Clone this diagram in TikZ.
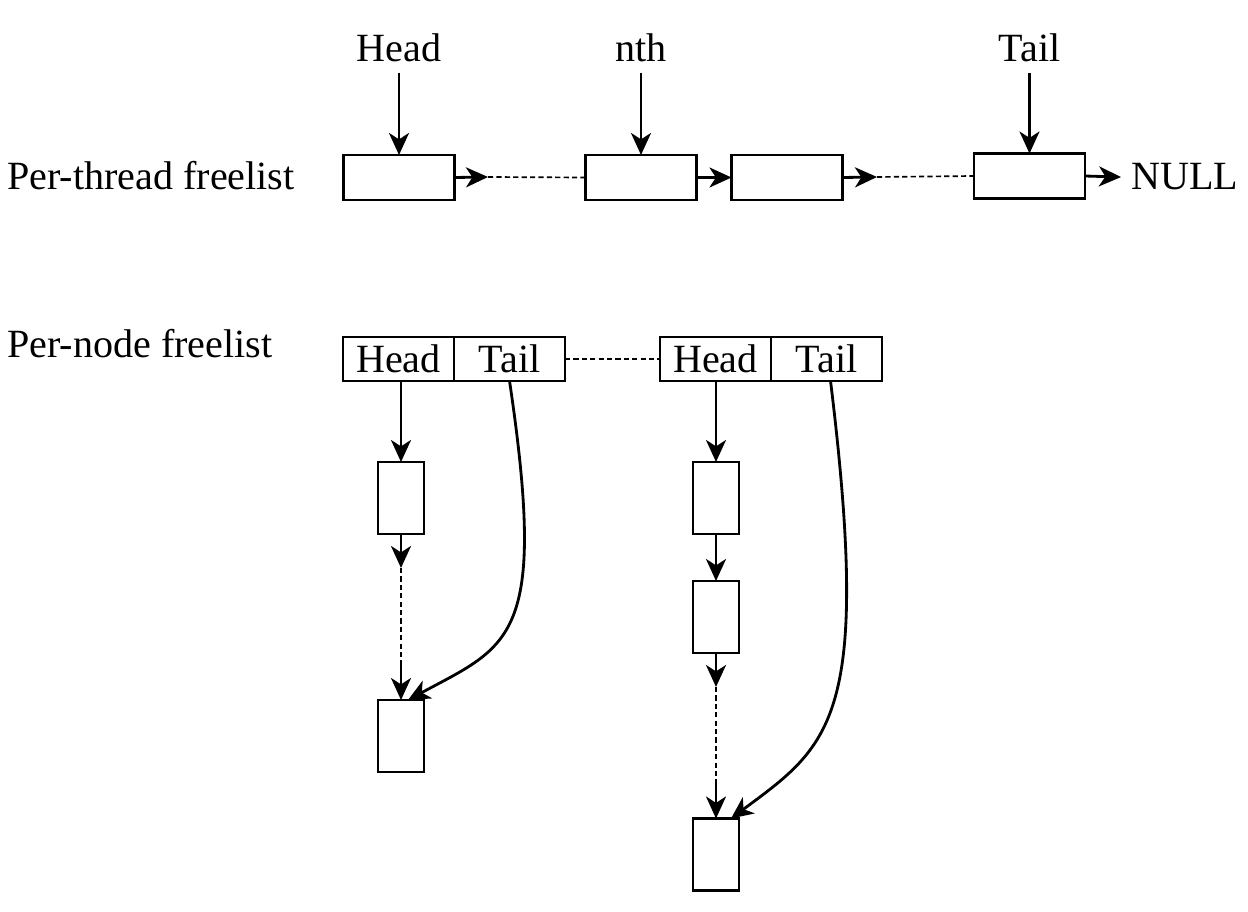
\documentclass[tikz,border=0pt]{standalone}
\usepackage{fontspec}
\setmainfont{Liberation Serif}
\usetikzlibrary{arrows.meta,positioning}

\begin{document}
\begin{tikzpicture}[x=0.025cm, y=-0.025cm,
	every node/.style={font=\fontsize{28.5}{34}\selectfont},
	lbl/.style={inner sep=0.25cm},
	elem/.style={draw, line width=1.7pt, inner sep=0pt, outer sep=0pt, minimum width=2.775cm, minimum height=1.125cm},
	cell/.style={elem, minimum height=1.1cm},
	slot/.style={draw, line width=1.7pt, inner sep=0pt, outer sep=0pt, minimum width=1.15cm, minimum height=1.8cm},
	ptr/.style={-{Stealth[length=0.55cm, width=0.5cm, inset=0.16cm]}, line width=2pt},
	link/.style={line width=1.2pt, dash pattern=on 0.13cm off 0.08cm}]

\useasboundingbox (0,0) rectangle (1248,912);

% per-thread list
\node[lbl, anchor=base west] (thread) at (-3,190) {Per-thread freelist};

\node[elem] (tb1) at (399,177.5) {};
\node[elem] (tb2) at (641,177.5) {};
\node[elem] (tb3) at (787,177.5) {};
\node[elem] (tb4) at (1029.5,176) {};

\node[lbl, anchor=base] (headlbl) at (399,62) {Head};
\node[lbl, anchor=base] (nthlbl) at (641,62) {nth};
\node[lbl, anchor=base] (taillbl) at (1029.5,62) {Tail};
\node[lbl, anchor=base west] (null) at (1121,190) {NULL};

\coordinate (tip1) at (488,177);
\coordinate (tip2) at (877,177);

\draw[ptr] (headlbl.south) -- (tb1.north);
\draw[ptr] (nthlbl.south) -- (tb2.north);
\draw[ptr] (taillbl.south) -- (tb4.north);

\draw[ptr] (tb1.east) -- (tip1);
\draw[link] (tip1) -- (tb2.west);
\draw[ptr] (tb2.east) -- (tb3.west);
\draw[ptr] (tb3.east) -- (tip2);
\draw[link] (tip2) -- (tb4.west);
\draw[ptr] (tb4.east) -- (null.west);

% per-node list
\node[lbl, anchor=base west] (pnode) at (-3,357) {Per-node freelist};

\node[cell] (h1) at (398.5,359) {Head};
\node[cell, right=0pt of h1] (t1) {Tail};
\node[cell] (h2) at (715.5,359) {Head};
\node[cell, right=0pt of h2] (t2) {Tail};

\draw[link] (t1.east) -- (h2.west);

\node[slot] (a1) at (401,498) {};
\node[slot] (a2) at (401,736) {};

\node[slot] (b1) at (716,498) {};
\node[slot] (b2) at (716,617) {};
\node[slot] (b3) at (716,854.5) {};

\coordinate (c1) at (401,568);
\coordinate (c2) at (401,665);
\coordinate (c3) at (716,687);
\coordinate (c4) at (716,785);

\draw[ptr] (h1.south -| a1.north) -- (a1.north);
\draw[ptr] (a1.south) -- (c1);
\draw[link] (c1) -- (c2);
\draw[ptr] (c2) -- (a2.north);

\draw[ptr] (h2.south -| b1.north) -- (b1.north);
\draw[ptr] (b1.south) -- (b2.north);
\draw[ptr] (b2.south) -- (c3);
\draw[link] (c3) -- (c4);
\draw[ptr] (c4) -- (b3.north);

\draw[ptr] (t1.south) .. controls (548,640) and (510,645) .. ([xshift=0.175cm]a2.north);
\draw[ptr] ([xshift=0.1cm]t2.south) .. controls (872,720) and (830,745) .. ([xshift=0.375cm]b3.north);

\end{tikzpicture}
\end{document}
